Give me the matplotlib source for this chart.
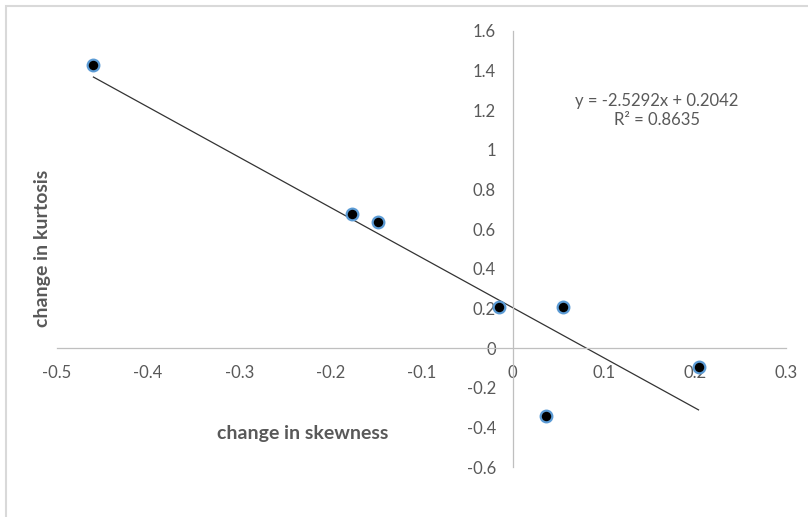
import numpy as np
import matplotlib
matplotlib.use('Agg')
import matplotlib.pyplot as plt
from matplotlib.patches import Rectangle

plt.rcParams['font.family'] = ['Lato', 'DejaVu Sans']

# Values
skew_change = [-0.46, -0.176, -0.148, -0.015, 0.055, 0.204, 0.037]
kurt_change = [1.43, 0.677, 0.636, 0.207, 0.207, -0.096, -0.343]

# Trendline as printed on the chart
slope = -2.5292
intercept = 0.2042
r_squared = 0.8635

x_ticks = [-0.5, -0.4, -0.3, -0.2, -0.1, 0, 0.1, 0.2, 0.3]
x_tick_labels = ['-0.5', '-0.4', '-0.3', '-0.2', '-0.1', '0', '0.1', '0.2', '0.3']
y_ticks = [-0.6, -0.4, -0.2, 0, 0.2, 0.4, 0.6, 0.8, 1, 1.2, 1.4, 1.6]
y_tick_labels = ['-0.6', '-0.4', '-0.2', '0', '0.2', '0.4', '0.6', '0.8', '1', '1.2', '1.4', '1.6']

W, H = 808, 517
text_color = '#595959'
axis_color = '#BFBFBF'

fig = plt.figure(figsize=(W / 100, H / 100), dpi=100)
ax = fig.add_axes([57 / W, 1 - 467 / H, 729 / W, 436 / H])

# trendline over the data range
x_fit = np.array([min(skew_change), max(skew_change)])
ax.plot(x_fit, slope * x_fit + intercept, color='#333333', lw=0.9, zorder=2)

ax.plot(skew_change, kurt_change, 'o', ms=8.4, mfc='black', mec='#5B9BD5',
        mew=1.6, zorder=3, linestyle='none')

ax.set_xlim(-0.5, 0.3)
ax.set_ylim(-0.6, 1.6)

# axes cross at the origin, Excel style
ax.spines['left'].set_position(('data', 0))
ax.spines['bottom'].set_position(('data', 0))
ax.spines['top'].set_visible(False)
ax.spines['right'].set_visible(False)
for s in ['left', 'bottom']:
    ax.spines[s].set_color(axis_color)
    ax.spines[s].set_linewidth(0.9)

ax.set_xticks(x_ticks)
ax.set_xticklabels(x_tick_labels)
ax.set_yticks(y_ticks)
ax.set_yticklabels(y_tick_labels)
ax.tick_params(axis='x', length=0, pad=12, labelsize=12, labelcolor=text_color)
ax.tick_params(axis='y', length=0, pad=12, labelsize=12, labelcolor=text_color)
ax.patch.set_visible(False)

# equation label
ax.text(0.158, 1.2, f'y = {slope}x + {intercept}\nR\u00b2 = {r_squared}',
        ha='center', va='center', fontsize=12, color=text_color, linespacing=1.25)

# axis titles
fig.text(43 / W, 1 - 248 / H, 'change in kurtosis', rotation=90, ha='center', va='center',
         fontsize=14, fontweight='bold', color=text_color)
fig.text(303 / W, 1 - 433 / H, 'change in skewness', ha='center', va='center',
         fontsize=14, fontweight='bold', color=text_color)

# chart border (right and bottom edges are cropped off in the reference)
fig.patches.append(Rectangle((6 / W, -0.1), 1.2, 1 - 6 / H + 0.1, transform=fig.transFigure,
                             fill=False, edgecolor='#D9D9D9', lw=1.5))

fig.savefig('out.png', dpi=100)
